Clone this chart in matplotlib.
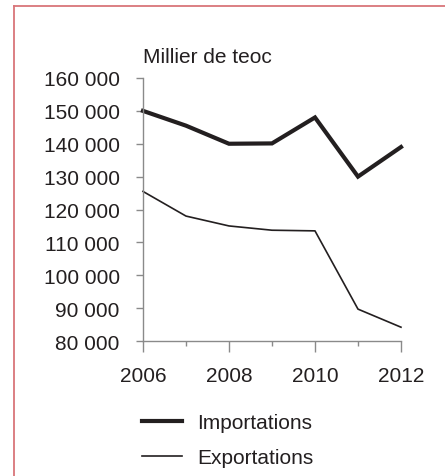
import matplotlib
matplotlib.use('Agg')
import matplotlib.pyplot as plt
from matplotlib.ticker import FuncFormatter, MultipleLocator
from matplotlib.lines import Line2D

plt.rcParams['font.family'] = ['Liberation Sans', 'DejaVu Sans']

years = [2006, 2007, 2008, 2009, 2010, 2011, 2012]
importations = [150000, 145500, 140000, 140100, 148000, 130000, 139000]
exportations = [125500, 118000, 115000, 113700, 113500, 89700, 84200]
unit_label = 'Millier de teoc'

fig = plt.figure(figsize=(4.45, 4.77), dpi=100)
ax = fig.add_axes([0.3213, 0.283, 0.5798, 0.5514])

ink = '#231f20'
fs = 15
ax.plot(years, importations, color=ink, lw=3.0, solid_joinstyle='miter',
        clip_on=False, label='Importations')
ax.plot(years, exportations, color=ink, lw=1.2, clip_on=False, label='Exportations')

ax.set_xlim(2006, 2012)
ax.set_ylim(80000, 160000)
ax.xaxis.set_major_locator(MultipleLocator(2))
ax.xaxis.set_minor_locator(MultipleLocator(1))
ax.yaxis.set_major_locator(MultipleLocator(10000))
ax.yaxis.set_major_formatter(FuncFormatter(lambda v, p: f'{int(v):,}'.replace(',', ' ')))

for s in ['top', 'right']:
    ax.spines[s].set_visible(False)
for s in ['left', 'bottom']:
    ax.spines[s].set_color('#8a8a8a')
    ax.spines[s].set_linewidth(1.0)

ax.tick_params(axis='y', which='major', direction='out', length=4.8, width=1.0,
               color='#8a8a8a', pad=12, labelsize=fs, labelcolor=ink)
ax.tick_params(axis='x', which='major', direction='out', length=7.7, width=1.0,
               color='#8a8a8a', pad=10, labelsize=fs, labelcolor=ink)
ax.tick_params(axis='x', which='minor', direction='out', length=3.6, width=1.0,
               color='#8a8a8a')

ax.text(0, 1.083, unit_label, transform=ax.transAxes, ha='left', va='center',
        fontsize=fs, color=ink)

fig.legend(loc='upper left', bbox_to_anchor=(0.319, 0.132), frameon=False,
           fontsize=fs, handlelength=1.92, handletextpad=0.72, labelspacing=0.78,
           borderpad=0, borderaxespad=0, labelcolor=ink)

# red frame
red = '#d9757a'
fig.add_artist(Line2D([0.0315, 0.0315], [0, 0.986], transform=fig.transFigure,
                      color=red, lw=1.3))
fig.add_artist(Line2D([0.0315, 1.0], [0.986, 0.986], transform=fig.transFigure,
                      color=red, lw=1.3))

fig.savefig('out.png', dpi=100)
